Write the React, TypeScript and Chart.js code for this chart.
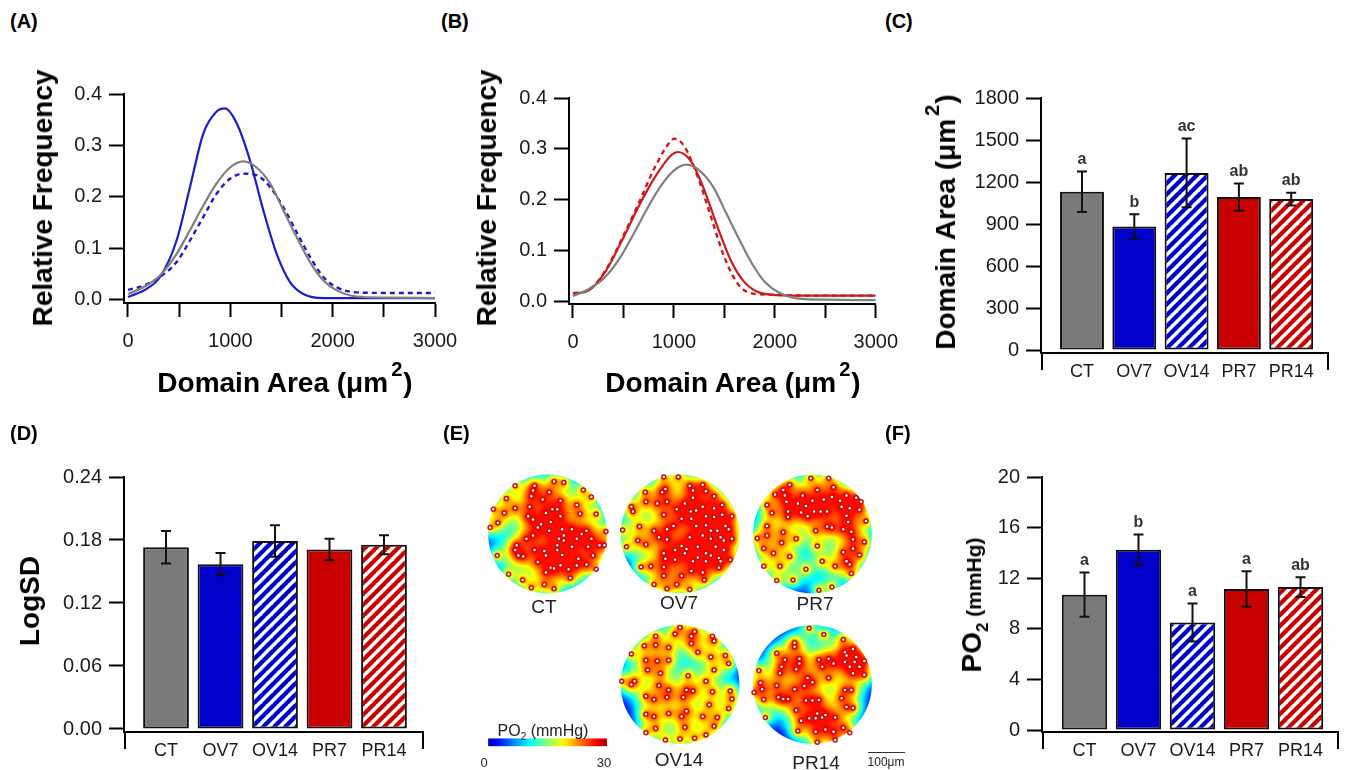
import React, { useEffect, useRef } from 'react';
import { Chart, registerables } from 'chart.js';
Chart.register(...registerables);

const FONT = "'Liberation Sans', Arial, Helvetica, sans-serif";
const INK = '#1a1a1a';

// ---------- Panels A & B : domain-area frequency distributions ----------
const ctX = [0, 150, 313, 475, 606, 736, 866, 997, 1127, 1257, 1388, 1518, 1648, 1779, 1909, 2039, 2235, 2500, 3000];
const ctY = [0.011, 0.024, 0.047, 0.089, 0.135, 0.183, 0.226, 0.257, 0.269, 0.257, 0.226, 0.174, 0.122, 0.073, 0.037, 0.018, 0.006, 0.004, 0.003];
const ov7X = [0, 182, 313, 475, 606, 736, 866, 948, 1062, 1192, 1322, 1453, 1583, 1713, 1909, 2300, 3000];
const ov7Y = [0.005, 0.021, 0.044, 0.115, 0.219, 0.323, 0.366, 0.372, 0.343, 0.271, 0.174, 0.089, 0.034, 0.011, 0.003, 0.003, 0.003];
const ov14X = [0, 150, 313, 475, 606, 736, 866, 997, 1127, 1257, 1388, 1518, 1648, 1779, 1909, 2039, 2235, 2500, 3000];
const ov14Y = [0.019, 0.027, 0.044, 0.073, 0.115, 0.161, 0.206, 0.235, 0.245, 0.242, 0.219, 0.180, 0.131, 0.083, 0.044, 0.024, 0.014, 0.013, 0.013];
const pr7X = [0, 163, 325, 488, 651, 814, 976, 1041, 1172, 1302, 1432, 1562, 1692, 1822, 1952, 2300, 3000];
const pr7Y = [0.016, 0.023, 0.060, 0.121, 0.187, 0.245, 0.288, 0.294, 0.275, 0.219, 0.147, 0.082, 0.040, 0.020, 0.014, 0.012, 0.012];
const pr14X = [0, 163, 325, 488, 651, 814, 976, 1009, 1106, 1237, 1367, 1497, 1627, 1757, 1952, 2300, 3000];
const pr14Y = [0.016, 0.024, 0.062, 0.125, 0.193, 0.265, 0.317, 0.320, 0.304, 0.245, 0.167, 0.089, 0.037, 0.017, 0.014, 0.012, 0.012];
const distXTicks = [0, 500, 1000, 1500, 2000, 2500, 3000];
const distXLabels = [0, 1000, 2000, 3000];
const distYTicks = [0, 0.1, 0.2, 0.3, 0.4];

// ---------- Panels C, D, F : group bars ----------
const groups = ['CT', 'OV7', 'OV14', 'PR7', 'PR14'];
const areaMean = [1130, 882, 1265, 1092, 1078];
const areaErr = [145, 88, 245, 97, 45];
const areaLetters = ['a', 'b', 'ac', 'ab', 'ab'];
const areaTicks = [0, 300, 600, 900, 1200, 1500, 1800];
const logsdMean = [0.173, 0.157, 0.179, 0.171, 0.1755];
const logsdErr = [0.0155, 0.0105, 0.015, 0.0102, 0.009];
const logsdTicks = [0, 0.06, 0.12, 0.18, 0.24];
const po2Mean = [10.7, 14.25, 8.5, 11.15, 11.3];
const po2Err = [1.75, 1.2, 1.5, 1.4, 0.78];
const po2Letters = ['a', 'b', 'a', 'a', 'ab'];
const po2Ticks = [0, 4, 8, 12, 16, 20];

// ---------- Panel E : capillary positions (image grid 0-390, centre 195) ----------
const ctCaps = [[95,45],[155,45],[215,32],[245,35],[150,60],[200,65],[305,58],[145,78],[68,85],[180,88],[235,92],[330,80],[28,118],[95,115],[140,110],[210,118],[225,118],[190,130],[285,105],[295,132],[345,133],[62,130],[150,150],[135,140],[235,140],[205,158],[42,160],[175,165],[165,175],[240,180],[200,185],[270,180],[315,185],[300,195],[375,187],[18,175],[150,200],[245,200],[230,210],[130,210],[100,230],[285,210],[245,215],[225,230],[330,210],[355,230],[370,230],[95,245],[155,245],[185,248],[225,245],[270,235],[320,235],[105,262],[120,265],[190,262],[240,260],[290,272],[335,262],[40,262],[165,282],[205,300],[215,302],[235,292],[285,293],[315,290],[190,315],[260,305],[345,305],[75,320],[118,338],[185,352],[265,332],[145,362],[215,365]];
const ov7Caps = [[145,18],[190,18],[225,45],[265,42],[150,55],[235,60],[140,65],[88,65],[275,62],[300,78],[90,95],[125,100],[155,95],[235,82],[210,100],[265,110],[300,115],[325,105],[45,110],[50,125],[185,118],[145,135],[228,125],[245,122],[200,148],[230,148],[275,140],[300,142],[325,135],[355,140],[70,172],[115,185],[155,180],[175,170],[245,170],[275,168],[290,185],[310,185],[335,170],[18,183],[130,205],[155,212],[225,205],[265,200],[290,210],[320,205],[330,215],[355,210],[345,180],[65,215],[90,228],[30,235],[200,232],[215,242],[180,245],[250,235],[305,235],[330,245],[145,255],[210,255],[250,268],[275,255],[290,262],[315,270],[150,272],[180,275],[235,280],[275,280],[320,280],[350,275],[75,298],[105,295],[145,298],[230,310],[265,315],[315,300],[145,325],[200,325],[270,338],[115,352],[185,352],[155,365],[225,368]];
const pr7Caps = [[190,22],[245,22],[125,42],[105,58],[210,58],[260,50],[80,72],[110,75],[165,75],[255,80],[300,75],[330,82],[115,95],[150,100],[195,92],[230,88],[280,92],[345,95],[55,105],[175,108],[120,125],[200,125],[220,125],[240,125],[310,115],[285,110],[340,120],[70,130],[120,142],[180,140],[300,138],[160,128],[55,170],[240,172],[305,158],[360,155],[105,190],[205,185],[290,180],[315,188],[255,175],[25,208],[55,200],[100,222],[145,210],[210,232],[320,212],[355,220],[45,240],[75,255],[125,265],[290,252],[320,240],[340,260],[300,280],[45,295],[95,295],[175,305],[225,280],[265,295],[310,290],[85,340],[135,338],[315,318],[215,370],[255,360]];
const ov14Caps = [[195,18],[240,30],[295,45],[120,45],[180,38],[230,45],[300,60],[85,75],[120,72],[160,80],[230,68],[335,105],[250,95],[290,110],[45,100],[90,120],[125,122],[160,120],[345,130],[300,150],[95,150],[135,160],[55,185],[220,168],[15,185],[275,185],[45,195],[130,198],[160,212],[215,212],[235,215],[205,235],[295,218],[350,215],[90,232],[115,242],[155,235],[285,258],[345,270],[215,278],[200,295],[90,288],[115,295],[160,285],[265,295],[310,298],[120,332],[210,328],[90,345],[300,325],[150,368],[195,365],[240,362],[275,352],[355,240]];
const pr14Caps = [[185,20],[230,40],[140,65],[290,55],[140,78],[85,98],[320,85],[295,95],[110,118],[155,115],[215,118],[245,115],[300,105],[330,110],[155,130],[100,140],[145,148],[260,130],[295,125],[325,125],[355,122],[310,140],[340,140],[30,152],[95,160],[225,140],[320,160],[355,165],[180,175],[245,175],[195,188],[35,190],[85,198],[170,200],[140,210],[295,212],[315,212],[15,220],[40,210],[90,235],[105,240],[120,240],[175,245],[195,245],[215,243],[285,238],[45,242],[300,265],[320,268],[145,275],[210,285],[225,298],[50,298],[160,308],[185,300],[235,290],[265,298],[205,300],[150,340],[205,342],[235,335],[260,342],[290,330],[310,345],[210,375],[265,368]];
const po2Range = [0, 30];

// ---------- styling constants ----------
const GRAY = '#7a7a7a';
const BLUE = '#0000c8';
const RED = '#c80000';
const LINE_GRAY = '#7f7f7f';
const LINE_BLUE = '#1c1cc8';
const LINE_RED = '#cc1a1a';

type Rect = { left: number; top: number; width: number; height: number };
type Area = { l: number; t: number; r: number; b: number };

function framing(c: Rect, a: Area) {
  return {
    padding: { left: 0, bottom: 0, top: a.t - c.top, right: c.left + c.width - a.r },
    yFit: (s: any) => { s.width = a.l - c.left; },
    xFit: (s: any) => { s.height = c.top + c.height - a.b; },
  };
}
const setTicks = (vals: number[]) => (s: any) => { s.ticks = vals.map((v) => ({ value: v })); };
const axisBorder = { display: true, color: '#000', width: 2 };

function lineConfig(c: Rect, a: Area, yMin: number, datasets: any[]) {
  const f = framing(c, a);
  return {
    type: 'line',
    data: { datasets },
    options: {
      responsive: false, animation: false, devicePixelRatio: 1,
      layout: { padding: f.padding },
      plugins: { legend: { display: false }, tooltip: { enabled: false } },
      elements: { point: { radius: 0 }, line: { cubicInterpolationMode: 'monotone' } },
      scales: {
        x: {
          type: 'linear', min: -39, max: 3000, offset: false,
          afterBuildTicks: setTicks(distXTicks), afterFit: f.xFit,
          ticks: { font: { family: FONT, size: 20 }, color: INK, padding: 12, autoSkip: false, maxRotation: 0,
            callback: (v: any) => (distXLabels.includes(Number(v)) ? String(v) : '') },
          grid: { display: true, drawOnChartArea: false, drawTicks: true, tickLength: 14, tickWidth: 2, tickColor: '#000' },
          border: axisBorder,
        },
        y: {
          type: 'linear', min: yMin, max: 0.4,
          afterBuildTicks: setTicks(distYTicks), afterFit: f.yFit,
          ticks: { font: { family: FONT, size: 20 }, color: INK, padding: 7, callback: (v: any) => Number(v).toFixed(1) },
          grid: { display: true, drawOnChartArea: false, drawTicks: true, tickLength: 15, tickWidth: 2, tickColor: '#000' },
          border: axisBorder,
        },
      },
    },
  };
}

const series = (xs: number[], ys: number[], color: string, dash?: number[]) => ({
  data: xs.map((x, i) => ({ x, y: ys[i] })),
  borderColor: color, borderWidth: dash ? 2.4 : 2.2, borderDash: dash || [], fill: false, pointRadius: 0,
});

function hatch(color: string) {
  const p = 11;
  const cv = document.createElement('canvas');
  cv.width = p; cv.height = p;
  const g = cv.getContext('2d')!;
  g.fillStyle = '#fff'; g.fillRect(0, 0, p, p);
  g.strokeStyle = color; g.lineWidth = 4.3;
  g.beginPath();
  for (const k of [-p, 0, p]) { g.moveTo(k - 1, p + 1); g.lineTo(k + p + 1, -1); }
  g.stroke();
  return g.createPattern(cv, 'repeat');
}

function barExtras(means: number[], errs: number[], letters: string[] | null) {
  return {
    id: 'barExtras',
    afterDatasetsDraw(chart: any) {
      const { ctx, chartArea } = chart;
      const x = chart.scales.x, y = chart.scales.y;
      ctx.save();
      ctx.strokeStyle = '#111'; ctx.lineWidth = 2;
      means.forEach((m, i) => {
        const px = x.getPixelForValue(i);
        const yt = y.getPixelForValue(m + errs[i]);
        const yb = y.getPixelForValue(m - errs[i]);
        ctx.beginPath();
        ctx.moveTo(px, yt); ctx.lineTo(px, yb);
        ctx.moveTo(px - 5, yt); ctx.lineTo(px + 5, yt);
        ctx.moveTo(px - 5, yb); ctx.lineTo(px + 5, yb);
        ctx.stroke();
        if (letters) {
          ctx.fillStyle = '#333'; ctx.font = `bold 16px ${FONT}`;
          ctx.textAlign = 'center'; ctx.textBaseline = 'middle';
          ctx.fillText(letters[i], px, yt - 12);
        }
      });
      ctx.strokeStyle = '#000';
      ctx.beginPath();
      ctx.moveTo(chartArea.left + 1, chartArea.bottom); ctx.lineTo(chartArea.left + 1, chartArea.bottom + 17);
      ctx.moveTo(chartArea.right, chartArea.bottom); ctx.lineTo(chartArea.right, chartArea.bottom + 17);
      ctx.stroke();
      ctx.restore();
    },
  };
}

function barConfig(c: Rect, a: Area, xMin: number, xMax: number, yMin: number, yMax: number, yTicks: number[],
  fmt: (v: number) => string, means: number[], errs: number[], letters: string[] | null) {
  const f = framing(c, a);
  const fills = [GRAY, BLUE, hatch(BLUE), RED, hatch(RED)];
  return {
    type: 'bar',
    data: {
      datasets: [{
        data: means.map((m, i) => ({ x: i, y: m })),
        backgroundColor: fills, borderColor: '#111', borderWidth: 2, borderSkipped: false,
        barPercentage: 0.84, categoryPercentage: 1,
      }],
    },
    options: {
      responsive: false, animation: false, devicePixelRatio: 1,
      layout: { padding: f.padding },
      plugins: { legend: { display: false }, tooltip: { enabled: false } },
      scales: {
        x: {
          type: 'linear', min: xMin, max: xMax, offset: false,
          afterBuildTicks: setTicks([0, 1, 2, 3, 4]), afterFit: f.xFit,
          ticks: { font: { family: FONT, size: 18 }, color: INK, padding: 8, autoSkip: false, maxRotation: 0,
            callback: (v: any) => groups[Number(v)] ?? '' },
          grid: { display: true, drawOnChartArea: false, drawTicks: false },
          border: axisBorder,
        },
        y: {
          type: 'linear', min: yMin, max: yMax,
          afterBuildTicks: setTicks(yTicks), afterFit: f.yFit,
          ticks: { font: { family: FONT, size: 20 }, color: INK, padding: 7, callback: (v: any) => fmt(Number(v)) },
          grid: { display: true, drawOnChartArea: false, drawTicks: true, tickLength: 15, tickWidth: 2, tickColor: '#000' },
          border: axisBorder,
        },
      },
    },
    plugins: [barExtras(means, errs, letters)],
  };
}

// ---------- Panel E ----------
const MAP_R = 61;
const maps = [
  { caps: ctCaps, cx: 74, cy: 71 },
  { caps: ov7Caps, cx: 210, cy: 71 },
  { caps: pr7Caps, cx: 346, cy: 71 },
  { caps: ov14Caps, cx: 210, cy: 227 },
  { caps: pr14Caps, cx: 346, cy: 227 },
];
const clamp01 = (v: number) => Math.max(0, Math.min(1, v));
function jet(t: number) {
  return [clamp01(1.5 - Math.abs(4 * t - 3)) * 255, clamp01(1.5 - Math.abs(4 * t - 2)) * 255, clamp01(1.5 - Math.abs(4 * t - 1)) * 255];
}
const heatPlugin = {
  id: 'heat',
  beforeDatasetsDraw(chart: any) {
    const { ctx } = chart;
    const x = chart.scales.x, y = chart.scales.y;
    for (const m of maps) {
      const cx = x.getPixelForValue(m.cx), cy = y.getPixelForValue(m.cy);
      const r = x.getPixelForValue(m.cx + MAP_R) - cx;
      const pts = m.caps.map(([a, b]) => [x.getPixelForValue(m.cx + (a - 195) / 3), y.getPixelForValue(m.cy + (b - 195) / 3)]);
      const size = Math.ceil(2 * r) + 4;
      const ox = Math.floor(cx - r) - 2, oy = Math.floor(cy - r) - 2;
      const off = document.createElement('canvas');
      off.width = size; off.height = size;
      const octx = off.getContext('2d')!;
      const img = octx.createImageData(size, size);
      for (let j = 0; j < size; j++) {
        for (let i = 0; i < size; i++) {
          const px = ox + i + 0.5, py = oy + j + 0.5;
          const alpha = clamp01(r + 0.5 - Math.hypot(px - cx, py - cy));
          if (alpha <= 0) continue;
          let prod = 1;
          for (const [qx, qy] of pts) {
            const d = Math.hypot(px - qx, py - qy);
            prod *= 1 - 0.78 * Math.exp(-d / 6.9);
          }
          const t = Math.min(0.865, 1 - prod);
          const [rr, gg, bb] = jet(t);
          const k = (j * size + i) * 4;
          img.data[k] = rr; img.data[k + 1] = gg; img.data[k + 2] = bb; img.data[k + 3] = alpha * 255;
        }
      }
      octx.putImageData(img, 0, 0);
      ctx.drawImage(off, ox, oy);
    }
    // colour bar (0 -> 30 mmHg)
    const x0 = x.getPixelForValue(13), x1 = x.getPixelForValue(135);
    const y0 = y.getPixelForValue(283), y1 = y.getPixelForValue(291);
    const grad = ctx.createLinearGradient(x0, 0, x1, 0);
    for (let s = 0; s <= 20; s++) {
      const t = s / 20;
      const [rr, gg, bb] = jet(0.06 + t * 0.9 * (po2Range[1] - po2Range[0]) / 30);
      grad.addColorStop(t, `rgb(${rr | 0},${gg | 0},${bb | 0})`);
    }
    ctx.fillStyle = grad;
    ctx.fillRect(x0, y0, x1 - x0, y1 - y0);
  },
};
function heatConfig() {
  return {
    type: 'scatter',
    data: {
      datasets: maps.map((m) => ({
        data: m.caps.map(([a, b]) => ({ x: m.cx + (a - 195) / 3, y: m.cy + (b - 195) / 3 })),
        pointRadius: 2, pointBackgroundColor: '#ffffff', pointBorderColor: '#c01010', pointBorderWidth: 1.5,
      })),
    },
    options: {
      responsive: false, animation: false, devicePixelRatio: 1,
      layout: { padding: 0 },
      plugins: { legend: { display: false }, tooltip: { enabled: false } },
      scales: {
        x: { type: 'linear', min: 0, max: 420, display: false },
        y: { type: 'linear', min: 0, max: 310, reverse: true, display: false },
      },
    },
    plugins: [heatPlugin],
  };
}

// ---------- layout ----------
const rA: Rect = { left: 0, top: 60, width: 470, height: 300 };
const aA: Area = { l: 124, t: 94, r: 435, b: 303 };
const rB: Rect = { left: 450, top: 60, width: 460, height: 300 };
const aB: Area = { l: 569, t: 98, r: 881, b: 304 };
const rC: Rect = { left: 960, top: 60, width: 386, height: 330 };
const aC: Area = { l: 1041, t: 98, r: 1328, b: 353 };
const rD: Rect = { left: 0, top: 440, width: 460, height: 330 };
const aD: Area = { l: 124, t: 477, r: 423, b: 732 };
const rF: Rect = { left: 960, top: 440, width: 386, height: 330 };
const aF: Area = { l: 1042, t: 477, r: 1338, b: 732 };
const rE: Rect = { left: 470, top: 460, width: 420, height: 310 };

function ChartBox({ rect, make }: { rect: Rect; make: () => any }) {
  const ref = useRef<HTMLCanvasElement>(null);
  useEffect(() => {
    const chart = new Chart(ref.current as HTMLCanvasElement, make());
    return () => chart.destroy();
  }, []);
  return (
    <div style={{ position: 'absolute', left: rect.left, top: rect.top, width: rect.width, height: rect.height }}>
      <canvas ref={ref} width={rect.width} height={rect.height} style={{ display: 'block' }} />
    </div>
  );
}

function T({ x, y, size = 20, bold = false, rotate = false, left = false, color = '#000', children }: any) {
  return (
    <div style={{
      position: 'absolute', left: x, top: y, whiteSpace: 'nowrap', lineHeight: 1, color,
      font: `${bold ? 'bold ' : ''}${size}px ${FONT}`,
      transform: `translate(${left ? '0' : '-50%'},-50%)${rotate ? ' rotate(-90deg)' : ''}`,
    }}>{children}</div>
  );
}
const Sup = ({ children }: any) => (
  <span style={{ fontSize: '0.72em', position: 'relative', top: '-0.78em', marginLeft: 3, marginRight: 1 }}>{children}</span>
);
const AreaTitle = () => (<>Domain Area (μm<Sup>2</Sup>)</>);

export default function App() {
  return (
    <div style={{ position: 'absolute', left: 0, top: 0, width: 1346, height: 770, background: '#fff', overflow: 'hidden' }}>
      <ChartBox rect={rA} make={() => lineConfig(rA, aA, -0.0066, [
        series(ctX, ctY, LINE_GRAY), series(ov14X, ov14Y, LINE_BLUE, [5, 4]), series(ov7X, ov7Y, LINE_BLUE)])} />
      <ChartBox rect={rB} make={() => lineConfig(rB, aB, -0.0045, [
        series(ctX, ctY, LINE_GRAY), series(pr14X, pr14Y, LINE_RED, [5, 4]), series(pr7X, pr7Y, LINE_RED)])} />
      <ChartBox rect={rC} make={() => barConfig(rC, aC, -0.784, 4.704, -21.4, 1800, areaTicks, (v) => String(v), areaMean, areaErr, areaLetters)} />
      <ChartBox rect={rD} make={() => barConfig(rD, aD, -0.771, 4.716, -0.00286, 0.24, logsdTicks, (v) => v.toFixed(2), logsdMean, logsdErr, null)} />
      <ChartBox rect={rF} make={() => barConfig(rF, aF, -0.787, 4.694, -0.158, 20, po2Ticks, (v) => String(v), po2Mean, po2Err, po2Letters)} />
      <ChartBox rect={rE} make={heatConfig} />

      <T x={10} y={21} bold left>(A)</T>
      <T x={441} y={21} bold left>(B)</T>
      <T x={885} y={21} bold left>(C)</T>
      <T x={10} y={433} bold left>(D)</T>
      <T x={443} y={433} bold left>(E)</T>
      <T x={885} y={433} bold left>(F)</T>

      <T x={43} y={198} size={28} bold rotate>Relative Frequency</T>
      <T x={487} y={198} size={28} bold rotate>Relative Frequency</T>
      <T x={285} y={383} size={28} bold><AreaTitle /></T>
      <T x={733} y={383} size={28} bold><AreaTitle /></T>
      <T x={946} y={222} size={28} bold rotate><AreaTitle /></T>
      <T x={30} y={601} size={28} bold rotate>LogSD</T>
      <T x={972} y={605} size={28} bold rotate>
        PO<span style={{ fontSize: 17, position: 'relative', top: 7 }}>2</span><span style={{ fontSize: 21 }}> (mmHg)</span>
      </T>

      <T x={544} y={607} size={19} color="#222">CT</T>
      <T x={679} y={603} size={19} color="#222">OV7</T>
      <T x={815} y={604} size={19} color="#222">PR7</T>
      <T x={679} y={760} size={19} color="#222">OV14</T>
      <T x={816} y={763} size={19} color="#222">PR14</T>
      <T x={543} y={731} size={16} color="#222">PO<span style={{ fontSize: 10, position: 'relative', top: 4 }}>2</span> (mmHg)</T>
      <T x={484} y={762} size={13} color="#222">0</T>
      <T x={604} y={762} size={13} color="#222">30</T>
      <div style={{ position: 'absolute', left: 868, top: 752, width: 37, height: 0, borderTop: '1.5px solid #333' }} />
      <T x={886} y={762} size={12} color="#222">100μm</T>
    </div>
  );
}
